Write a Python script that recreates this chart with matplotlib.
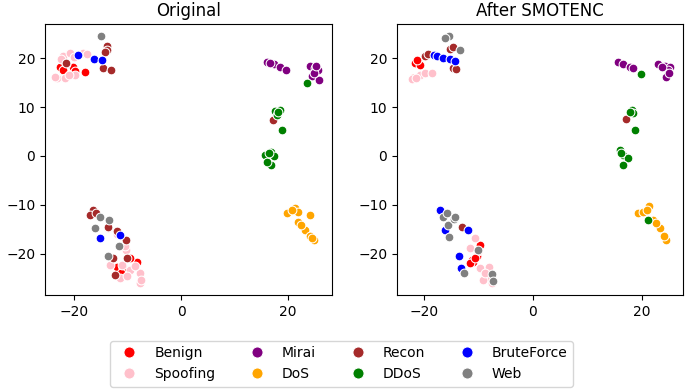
import matplotlib
matplotlib.use("Agg")
import matplotlib.pyplot as plt
from matplotlib.lines import Line2D

classes = ["Benign", "Spoofing", "Mirai", "DoS", "Recon", "DDoS", "BruteForce", "Web"]
colors = ["red", "pink", "purple", "orange", "brown", "green", "blue", "gray"]
titles = ["Original", "After SMOTENC"]

# ---- Original panel points (x, y) ----
orig_benign = [(-22.6, 18.3), (-20.1, 18.2), (-19.8, 17.3), (-17.9, 17.1), (-21.5, 18.8), (-22.0, 17.6),
               (-8.3, -21.7), (-12.0, -22.7), (-10.8, -22.9), (-11.2, -24.0), (-9.5, -21.0)]
orig_spoofing = [(-23.2, 15.9), (-21.7, 15.9), (-19.8, 16.6), (-22.0, 20.5), (-20.7, 21.0), (-18.3, 21.0),
                 (-21.0, 16.5), (-23.5, 16.2), (-20.0, 20.2), (-17.5, 20.8), (-22.5, 19.8),
                 (-13.7, -14.8), (-10.3, -19.3), (-13.3, -22.3), (-11.1, -22.3), (-9.5, -23.4), (-7.7, -24.0),
                 (-7.7, -26.1), (-11.4, -25.1), (-10.1, -24.7), (-7.4, -25.5), (-12.0, -16.0), (-10.5, -18.5),
                 (-8.5, -22.5)]
orig_mirai = [(16.0, 19.3), (17.3, 18.9), (18.5, 18.3), (19.6, 17.6), (16.6, 19.1), (24.1, 18.4), (25.0, 18.0),
              (25.5, 17.6), (24.4, 16.3), (25.7, 15.6), (24.8, 17.0), (25.3, 18.5)]
orig_dos = [(19.8, -11.7), (21.3, -10.7), (21.9, -11.4), (24.1, -12.1), (21.9, -13.5), (23.2, -15.2),
            (24.1, -16.5), (24.9, -17.2), (24.4, -16.9), (22.5, -14.2), (20.8, -11.0)]
orig_recon = [(-13.9, 22.5), (-13.9, 21.7), (-21.4, 19.1), (-14.5, 18.0), (-13.1, 17.6), (-14.2, 21.2),
              (17.1, 7.4),
              (-16.4, -11.1), (-17.0, -12.1), (-13.6, -14.5), (-12.0, -15.4), (-10.3, -17.2), (-12.7, -21.0),
              (-10.0, -21.0), (-12.3, -24.4), (-15.8, -11.8)]
orig_ddos = [(23.6, 14.9), (18.5, 9.4), (17.6, 9.1), (17.9, 8.4), (18.2, 9.0), (18.8, 5.2), (16.8, 0.7),
             (15.7, 0.2), (17.3, -0.1), (16.8, -1.8), (16.1, -1.2), (16.5, 0.5)]
orig_brute = [(-19.2, 20.7), (-16.3, 19.8), (-14.8, 19.7), (-15.1, -16.9), (-11.4, -16.2)]
orig_web = [(-15.0, 24.6), (-15.1, -12.6), (-13.5, -13.1), (-16.1, -14.8), (-11.5, -18.4), (-13.6, -20.5)]

# ---- After SMOTENC panel points (x, y) ----
smote_benign = [(-21.0, 19.3), (-21.6, 19.0), (-20.7, 18.6), (-21.3, 19.6), (-22.0, 16.0),
                (-9.7, -18.2), (-10.3, -20.6), (-11.2, -21.3), (-10.9, -21.7), (-11.5, -22.0), (-10.0, -19.5),
                (-10.5, -21.0)]
smote_spoofing = [(-22.2, 15.7), (-20.7, 16.6), (-19.8, 16.9), (-18.5, 16.9), (-21.5, 16.0),
                  (-10.6, -16.9), (-11.5, -18.9), (-9.7, -23.0), (-8.1, -22.7), (-7.8, -25.1), (-9.1, -25.4),
                  (-7.5, -26.1), (-8.8, -24.0), (-16.8, -11.0)]
smote_mirai = [(15.7, 19.3), (16.6, 18.9), (17.9, 18.3), (18.5, 18.0), (23.0, 18.9), (24.3, 18.4), (25.2, 18.3),
               (24.9, 17.5), (24.4, 16.1), (25.1, 16.9), (23.8, 18.2)]
smote_dos = [(21.4, -10.2), (19.4, -11.7), (20.3, -11.4), (22.1, -13.1), (23.4, -14.8), (24.5, -17.2),
             (24.1, -16.5), (21.0, -11.0), (22.6, -13.8)]
smote_recon = [(-15.2, 21.9), (-14.7, 22.3), (-19.8, 20.5), (-19.2, 20.9), (-14.6, 18.0), (-14.1, 17.8),
               (17.1, 7.5), (-17.1, -11.3), (-13.0, -14.5)]
smote_ddos = [(19.9, 16.8), (18.2, 9.4), (18.5, 8.7), (17.8, 9.0), (18.8, 5.2), (16.0, 1.2), (16.6, 0.2),
              (17.5, -0.5), (16.6, -1.8), (16.2, 0.6), (21.1, -13.1)]
smote_brute = [(-18.2, 20.7), (-17.5, 20.5), (-16.4, 20.0), (-15.2, 19.8), (-14.3, 19.5),
               (-16.1, -15.2), (-11.9, -15.2), (-13.5, -20.5), (-13.1, -23.0), (-17.0, -11.0)]
smote_web = [(-15.3, 24.6), (-16.1, 24.1), (-13.3, 21.6), (-16.4, -12.6), (-15.8, -11.7), (-15.5, -14.1),
             (-14.5, -12.9), (-14.3, -12.6), (-15.3, -16.7), (-10.0, -19.3), (-12.6, -24.0), (-7.5, -24.2),
             (-7.3, -25.6)]

panels = [
    [orig_benign, orig_spoofing, orig_mirai, orig_dos, orig_recon, orig_ddos, orig_brute, orig_web],
    [smote_benign, smote_spoofing, smote_mirai, smote_dos, smote_recon, smote_ddos, smote_brute, smote_web],
]

fig = plt.figure(figsize=(6.85, 3.91), dpi=100)
ax1 = fig.add_axes([0.0657, 0.2455, 0.419, 0.693])
ax2 = fig.add_axes([0.5796, 0.2455, 0.4174, 0.693])
axes = [ax1, ax2]
xlims = [(-25.4, 28.2), (-24.9, 27.6)]

for ax, title, pts_list, xl in zip(axes, titles, panels, xlims):
    for pts, col in zip(pts_list, colors):
        xs = [p[0] for p in pts]
        ys = [p[1] for p in pts]
        ax.scatter(xs, ys, s=40, c=col, edgecolors="white", linewidths=0.75)
    ax.set_title(title, fontsize=12)
    ax.set_xlim(*xl)
    ax.set_ylim(-28.5, 27.0)
    ax.set_xticks([-20, 0, 20])
    ax.set_yticks([-20, -10, 0, 10, 20])
    ax.tick_params(labelsize=10)

handles = [Line2D([], [], marker="o", linestyle="", markersize=8, markerfacecolor=c,
                  markeredgecolor="white", markeredgewidth=0.75) for c in colors]
fig.legend(handles, classes, loc="lower center", bbox_to_anchor=(0.4985, 0.0), ncol=4,
           fontsize=10, handletextpad=0.8, columnspacing=2.0, borderaxespad=0.3)

fig.savefig("out.png", dpi=100)
